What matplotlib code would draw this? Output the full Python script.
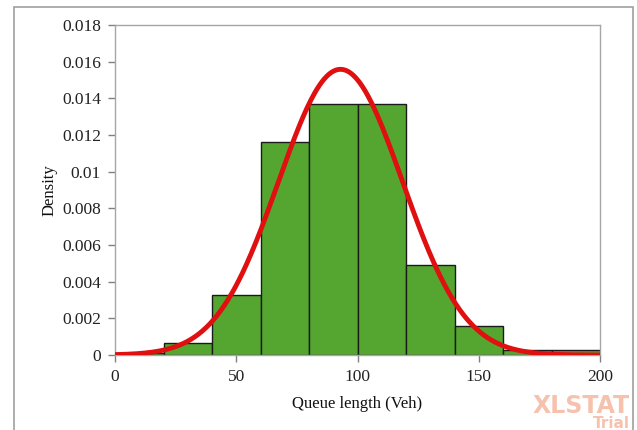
import numpy as np
import matplotlib
matplotlib.use("Agg")
import matplotlib.pyplot as plt
from matplotlib.patches import Rectangle

# histogram bins (Veh) and densities
bin_edges = [0, 20, 40, 60, 80, 100, 120, 140, 160, 180, 200]
densities = [0.00013, 0.00063, 0.0033, 0.0116, 0.0137, 0.0137, 0.0049, 0.0016, 0.0003, 0.0003]

# fitted normal distribution
fit_mean = 93.0
fit_sd = 25.6

y_ticks = [0, 0.002, 0.004, 0.006, 0.008, 0.01, 0.012, 0.014, 0.016, 0.018]
y_labels = ["0", "0.002", "0.004", "0.006", "0.008", "0.01", "0.012", "0.014", "0.016", "0.018"]
x_ticks = [0, 50, 100, 150, 200]

GREEN = "#55a630"
RED = "#e01010"
GRID = "#a6a6a6"
SERIF = "Liberation Serif"

fig = plt.figure(figsize=(6.37, 4.30), dpi=100)
fig.patch.set_facecolor("white")

# outer chart frame
fig.add_artist(Rectangle((14 / 637, -0.01), (633 - 14) / 637, 1 - 7 / 430 + 0.01,
                         transform=fig.transFigure, fill=False,
                         edgecolor="#a0a0a0", linewidth=1.2))

ax = fig.add_axes([115 / 637, 1 - 355 / 430, 485 / 637, 330 / 430])

widths = np.diff(bin_edges)
ax.bar(bin_edges[:-1], densities, width=widths, align="edge",
       color=GREEN, edgecolor="#1a1a1a", linewidth=1.0, zorder=2)

xs = np.linspace(0, 200, 400)
pdf = np.exp(-0.5 * ((xs - fit_mean) / fit_sd) ** 2) / (fit_sd * np.sqrt(2 * np.pi))
ax.plot(xs, pdf, color=RED, linewidth=3.5, zorder=3, solid_capstyle="round")

ax.set_xlim(0, 200)
ax.set_ylim(0, 0.018)
ax.set_xticks(x_ticks)
ax.set_yticks(y_ticks)
ax.set_yticklabels(y_labels)

for sp in ax.spines.values():
    sp.set_color(GRID)
    sp.set_linewidth(1.0)
ax.tick_params(direction="out", length=5, width=1, color="#808080",
               labelsize=12.5, labelcolor="#222222", pad=5)
for lbl in ax.get_xticklabels() + ax.get_yticklabels():
    lbl.set_family(SERIF)

ax.set_xlabel("Queue length (Veh)", family=SERIF, fontsize=12, color="#111111", labelpad=8)
ax.set_ylabel("Density", family=SERIF, fontsize=12, color="#111111", labelpad=3)

# watermark
fig.text(630 / 637, 1 - 406 / 430, "XLSTAT", ha="right", va="center",
         fontsize=17, fontweight="bold", color="#f6c2ad", family="DejaVu Sans")
fig.text(630 / 637, 1 - 424 / 430, "Trial", ha="right", va="center",
         fontsize=11, fontweight="bold", color="#f6c2ad", family="DejaVu Sans")

fig.savefig("out.png", dpi=100, facecolor="white")
